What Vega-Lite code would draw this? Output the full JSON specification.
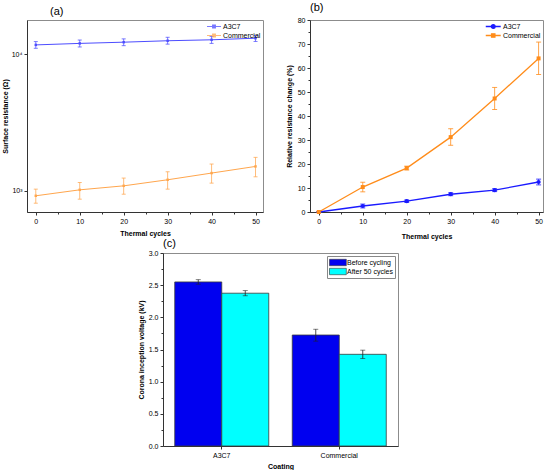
{
  "$schema": "https://vega.github.io/schema/vega-lite/v6.json",
  "padding": {"left": 0, "top": 1, "right": 0, "bottom": 0},
  "spacing": -3,
  "resolve": {"scale": {"color": "independent", "shape": "independent", "x": "independent", "y": "independent"}, "legend": {"color": "independent", "shape": "independent"}},
  "datasets": {
    "resistance": [
      {"cycles": 0, "coating": "A3C7", "value": 11700, "lo": 11050, "hi": 12370},
      {"cycles": 10, "coating": "A3C7", "value": 12000, "lo": 11300, "hi": 12700},
      {"cycles": 20, "coating": "A3C7", "value": 12250, "lo": 11550, "hi": 12950},
      {"cycles": 30, "coating": "A3C7", "value": 12550, "lo": 11850, "hi": 13300},
      {"cycles": 40, "coating": "A3C7", "value": 12750, "lo": 12000, "hi": 13500},
      {"cycles": 50, "coating": "A3C7", "value": 13100, "lo": 12400, "hi": 13700},
      {"cycles": 0, "coating": "Commercial", "value": 920, "lo": 812, "hi": 1029},
      {"cycles": 10, "coating": "Commercial", "value": 1017, "lo": 869, "hi": 1151},
      {"cycles": 20, "coating": "Commercial", "value": 1088, "lo": 945, "hi": 1240},
      {"cycles": 30, "coating": "Commercial", "value": 1205, "lo": 1029, "hi": 1379},
      {"cycles": 40, "coating": "Commercial", "value": 1349, "lo": 1139, "hi": 1571},
      {"cycles": 50, "coating": "Commercial", "value": 1509, "lo": 1267, "hi": 1758}
    ],
    "change": [
      {"cycles": 0, "coating": "A3C7", "value": 0, "lo": 0, "hi": 0},
      {"cycles": 10, "coating": "A3C7", "value": 2.5, "lo": 1.7, "hi": 3.3},
      {"cycles": 20, "coating": "A3C7", "value": 4.5, "lo": 4.0, "hi": 5.0},
      {"cycles": 30, "coating": "A3C7", "value": 7.4, "lo": 6.8, "hi": 8.0},
      {"cycles": 40, "coating": "A3C7", "value": 9.1, "lo": 8.5, "hi": 9.7},
      {"cycles": 50, "coating": "A3C7", "value": 12.5, "lo": 11.3, "hi": 13.7},
      {"cycles": 0, "coating": "Commercial", "value": 0, "lo": 0, "hi": 0},
      {"cycles": 10, "coating": "Commercial", "value": 10.4, "lo": 8.4, "hi": 12.4},
      {"cycles": 20, "coating": "Commercial", "value": 18.3, "lo": 17.5, "hi": 19.1},
      {"cycles": 30, "coating": "Commercial", "value": 31.2, "lo": 27.8, "hi": 34.7},
      {"cycles": 40, "coating": "Commercial", "value": 47.3, "lo": 42.7, "hi": 51.9},
      {"cycles": 50, "coating": "Commercial", "value": 64.0, "lo": 57.3, "hi": 70.8}
    ],
    "civ": [
      {"coating": "A3C7", "period": "Before cycling", "voltage": 2.55, "lo": 2.515, "hi": 2.585},
      {"coating": "A3C7", "period": "After 50 cycles", "voltage": 2.375, "lo": 2.335, "hi": 2.415},
      {"coating": "Commercial", "period": "Before cycling", "voltage": 1.725, "lo": 1.63, "hi": 1.815},
      {"coating": "Commercial", "period": "After 50 cycles", "voltage": 1.425, "lo": 1.36, "hi": 1.49}
    ]
  },
  "vconcat": [
    {
      "bounds": "flush",
      "spacing": 47,
      "resolve": {"scale": {"color": "independent", "shape": "independent", "x": "independent", "y": "independent"}, "legend": {"color": "independent", "shape": "independent"}},
      "hconcat": [
        {
          "title": {"text": "(a)", "frame": "group", "anchor": "start", "dx": 23},
          "width": 236,
          "height": 192,
          "data": {"name": "resistance"},
          "encoding": {
            "color": {"field": "coating", "type": "nominal",
              "scale": {"domain": ["A3C7", "Commercial"], "range": ["#4d4dff", "#ffa64d"]},
              "legend": {"orient": "top-right", "offset": 2, "title": null, "symbolSize": 49, "symbolStrokeWidth": 1.1, "labelOffset": 8, "rowPadding": -3,
                "symbolType": "M-1,0L3,0M0.6,-0.4L1.4,-0.4L1.4,0.4L0.6,0.4Z"}}
          },
          "layer": [
            {
              "mark": {"type": "rule", "strokeWidth": 1, "opacity": 0.75},
              "encoding": {
                "x": {"field": "cycles", "type": "quantitative", "scale": {"domain": [-2, 51.7], "nice": false, "zero": false},
                  "axis": {"orient": "bottom", "values": [5, 15, 25, 35, 45], "labels": false, "title": null, "domain": false, "tickSize": 2}},
                "y": {"field": "lo", "type": "quantitative", "scale": {"type": "log", "domain": [700, 17800], "nice": false}, "axis": null},
                "y2": {"field": "hi"}
              }
            },
            {
              "mark": {"type": "tick", "orient": "horizontal", "size": 4, "thickness": 1, "opacity": 0.75},
              "encoding": {
                "x": {"field": "cycles", "type": "quantitative", "axis": null},
                "y": {"field": "lo", "type": "quantitative", "axis": null}
              }
            },
            {
              "mark": {"type": "tick", "orient": "horizontal", "size": 4, "thickness": 1, "opacity": 0.75},
              "encoding": {
                "x": {"field": "cycles", "type": "quantitative", "axis": null},
                "y": {"field": "hi", "type": "quantitative", "axis": null}
              }
            },
            {
              "mark": {"type": "line", "strokeWidth": 1, "point": {"filled": true, "size": 6, "shape": "square"}},
              "encoding": {
                "x": {"field": "cycles", "type": "quantitative",
                  "axis": {"orient": "bottom", "values": [0, 10, 20, 30, 40, 50], "title": "Thermal cycles", "titlePadding": 5}},
                "y": {"field": "value", "type": "quantitative",
                  "axis": {"orient": "left", "values": [1000, 10000], "labelExpr": "datum.value == 1000 ? '10³' : '10⁴'", "title": "Surface resistance (Ω)", "titlePadding": 3}}
              }
            }
          ],
          "resolve": {"axis": {"x": "independent", "y": "independent"}}
        },
        {
          "title": {"text": "(b)", "frame": "group", "anchor": "start"},
          "width": 233,
          "height": 192,
          "data": {"name": "change"},
          "encoding": {
            "color": {"field": "coating", "type": "nominal",
              "scale": {"domain": ["A3C7", "Commercial"], "range": ["#1a1aff", "#ff8c1a"]},
              "legend": {"orient": "top-right", "offset": 2, "title": null, "symbolSize": 56, "symbolStrokeWidth": 1.3, "labelOffset": 9, "rowPadding": -2,
                "symbolType": "M-1,0L3,0M0.55,-0.45L1.45,-0.45L1.45,0.45L0.55,0.45Z",
                "encode": {"symbols": {"update": {"shape": {"signal": "datum.label === 'A3C7' ? 'M-1,0L3,0M1.5,0A0.5,0.5 0 1 1 0.5,0A0.5,0.5 0 1 1 1.5,0Z' : 'M-1,0L3,0M0.55,-0.45L1.45,-0.45L1.45,0.45L0.55,0.45Z'"}}}}}}
          },
          "layer": [
            {
              "mark": {"type": "rule", "strokeWidth": 1, "opacity": 0.8},
              "encoding": {
                "x": {"field": "cycles", "type": "quantitative", "scale": {"domain": [-2, 51], "nice": false, "zero": false},
                  "axis": {"orient": "bottom", "values": [5, 15, 25, 35, 45], "labels": false, "title": null, "domain": false, "tickSize": 2}},
                "y": {"field": "lo", "type": "quantitative", "scale": {"domain": [0, 80], "nice": false},
                  "axis": {"orient": "left", "values": [5, 15, 25, 35, 45, 55, 65, 75], "labels": false, "title": null, "domain": false, "tickSize": 2}},
                "y2": {"field": "hi"}
              }
            },
            {
              "mark": {"type": "tick", "orient": "horizontal", "size": 5, "thickness": 1, "opacity": 0.8},
              "encoding": {
                "x": {"field": "cycles", "type": "quantitative", "axis": null},
                "y": {"field": "lo", "type": "quantitative", "axis": null}
              }
            },
            {
              "mark": {"type": "tick", "orient": "horizontal", "size": 5, "thickness": 1, "opacity": 0.8},
              "encoding": {
                "x": {"field": "cycles", "type": "quantitative", "axis": null},
                "y": {"field": "hi", "type": "quantitative", "axis": null}
              }
            },
            {
              "mark": {"type": "line", "strokeWidth": 1.3},
              "encoding": {
                "x": {"field": "cycles", "type": "quantitative",
                  "axis": {"orient": "bottom", "values": [0, 10, 20, 30, 40, 50], "title": "Thermal cycles", "titlePadding": 8}},
                "y": {"field": "value", "type": "quantitative",
                  "axis": {"orient": "left", "values": [0, 10, 20, 30, 40, 50, 60, 70, 80], "title": "Relative resistance change (%)", "titlePadding": 5}}
              }
            },
            {
              "transform": [{"filter": "datum.coating === 'A3C7'"}],
              "mark": {"type": "point", "filled": true, "opacity": 1, "size": 18, "shape": "circle"},
              "encoding": {
                "x": {"field": "cycles", "type": "quantitative", "axis": null},
                "y": {"field": "value", "type": "quantitative", "axis": null},
                "color": {"value": "#1a1aff"}
              }
            },
            {
              "transform": [{"filter": "datum.coating === 'Commercial'"}],
              "mark": {"type": "point", "filled": true, "opacity": 1, "size": 16, "shape": "square"},
              "encoding": {
                "x": {"field": "cycles", "type": "quantitative", "axis": null},
                "y": {"field": "value", "type": "quantitative", "axis": null},
                "color": {"value": "#ff8c1a"}
              }
            }
          ],
          "resolve": {"axis": {"x": "independent", "y": "independent"}}
        }
      ]
    },
    {
      "bounds": "flush",
      "spacing": 0,
      "resolve": {"scale": {"color": "independent", "x": "independent", "y": "independent"}, "legend": {"color": "independent"}},
      "hconcat": [
        {
          "width": 136,
          "height": 10,
          "view": {"stroke": null},
          "data": {"values": []},
          "mark": "point"
        },
        {
          "title": {"text": "(c)", "frame": "group", "anchor": "start", "offset": 0},
          "width": 235,
          "height": 193,
          "data": {"name": "civ"},
          "layer": [
            {
              "mark": {"type": "bar", "stroke": "#3a3a3a", "strokeWidth": 0.8},
              "encoding": {
                "x": {"field": "coating", "type": "nominal", "scale": {"paddingInner": 0.2, "paddingOuter": 0.1},
                  "axis": {"orient": "bottom", "labelAngle": 0, "title": "Coating", "titlePadding": 4}},
                "xOffset": {"field": "period", "type": "nominal", "sort": ["Before cycling", "After 50 cycles"], "scale": {"paddingInner": 0, "paddingOuter": 0}},
                "y": {"field": "voltage", "type": "quantitative", "scale": {"domain": [0, 3], "nice": false},
                  "axis": {"orient": "left", "values": [0, 0.5, 1, 1.5, 2, 2.5, 3], "format": ".1f", "title": "Corona inception voltage (kV)"}},
                "color": {"field": "period", "type": "nominal",
                  "scale": {"domain": ["Before cycling", "After 50 cycles"], "range": ["#0000f0", "#00ffff"]},
                  "legend": {"orient": "top-right", "offset": 3, "title": null, "padding": 2, "strokeColor": "#888",
                    "symbolType": "M-1,-0.8L3.2,-0.8L3.2,0.8L-1,0.8Z", "symbolSize": 64, "labelOffset": 9,
                    "symbolStrokeColor": "#333", "symbolStrokeWidth": 0.6, "rowPadding": -1}}
              }
            },
            {
              "mark": {"type": "rule", "color": "#222", "strokeWidth": 0.8},
              "encoding": {
                "x": {"field": "coating", "type": "nominal", "axis": null},
                "xOffset": {"field": "period", "type": "nominal", "sort": ["Before cycling", "After 50 cycles"]},
                "y": {"field": "lo", "type": "quantitative",
                  "axis": {"orient": "left", "values": [0.25, 0.75, 1.25, 1.75, 2.25, 2.75], "labels": false, "title": null, "domain": false, "tickSize": 2}},
                "y2": {"field": "hi"}
              }
            },
            {
              "mark": {"type": "tick", "orient": "horizontal", "size": 5, "thickness": 0.8, "color": "#222"},
              "encoding": {
                "x": {"field": "coating", "type": "nominal", "axis": null},
                "xOffset": {"field": "period", "type": "nominal", "sort": ["Before cycling", "After 50 cycles"]},
                "y": {"field": "lo", "type": "quantitative", "axis": null}
              }
            },
            {
              "mark": {"type": "tick", "orient": "horizontal", "size": 5, "thickness": 0.8, "color": "#222"},
              "encoding": {
                "x": {"field": "coating", "type": "nominal", "axis": null},
                "xOffset": {"field": "period", "type": "nominal", "sort": ["Before cycling", "After 50 cycles"]},
                "y": {"field": "hi", "type": "quantitative", "axis": null}
              }
            }
          ],
          "resolve": {"axis": {"x": "independent", "y": "independent"}}
        }
      ]
    }
  ],
  "config": {
    "font": "Liberation Sans",
    "view": {"stroke": "#8c8c8c", "strokeWidth": 1},
    "axis": {
      "labelFontSize": 7, "labelColor": "#000", "labelPadding": 2,
      "titleFontSize": 7, "titleFontWeight": "bold", "titleColor": "#000", "titlePadding": 4,
      "domainColor": "#333", "tickColor": "#333", "tickSize": 3, "grid": false
    },
    "legend": {"labelFontSize": 7, "labelColor": "#000", "padding": 0, "rowPadding": 2, "labelOffset": 2},
    "title": {"fontSize": 11, "fontWeight": "normal", "anchor": "start", "offset": 3, "frame": "group"}
  }
}
